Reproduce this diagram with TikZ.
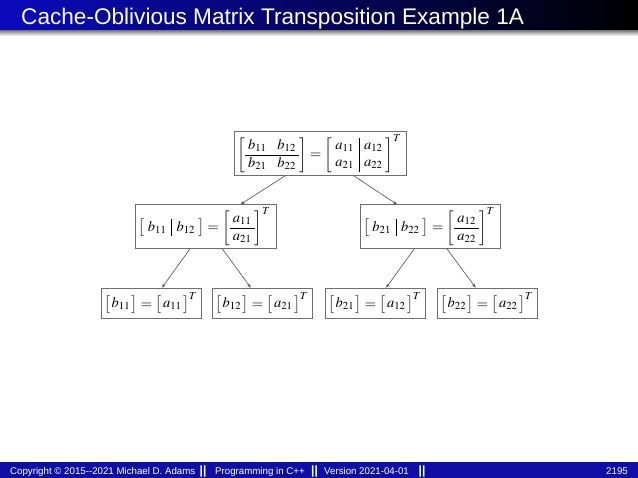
\documentclass[tikz,border=0pt]{standalone}
\usepackage{amsmath}
\usepackage{mathptmx}
\usepackage{fontspec}
\setmainfont{Liberation Serif}
\newfontfamily\hdfont{Liberation Sans}
\usetikzlibrary{arrows.meta}
\definecolor{hdblue}{RGB}{10,10,190}
\definecolor{ftblue}{RGB}{15,15,165}
\definecolor{boxgray}{RGB}{110,110,110}
\tikzset{
  mbox/.style={draw=boxgray, line width=0.7pt, inner xsep=3pt, inner ysep=3pt, font=\fontsize{14.5}{17}\selectfont},
  leafbox/.style={mbox, minimum width=100pt, minimum height=30pt, inner ysep=0pt},
  conn/.style={draw=black!70, line width=0.6pt, -{Stealth[length=4pt,width=3pt]}},
  ftext/.style={anchor=base west, text=white, inner sep=0pt, font=\hdfont\fontsize{9.7}{11}\selectfont},
  fsep/.style={anchor=base west, text=white, inner sep=0pt, font=\hdfont\bfseries\fontsize{12}{12}\selectfont}
}
\newcommand{\lbr}[1]{\left[\begin{array}{@{\;}c@{\;}}#1\end{array}\right]}
\newcommand{\sbr}[1]{\left[\begin{array}{@{\,}c@{\,}}#1\end{array}\right]}
\newcommand{\vbr}[2]{\left[\begin{array}{@{\;}c@{\hspace{5pt}}|@{\hspace{5pt}}c@{\;}}#1\\#2\end{array}\right]}
\newcommand{\vbrone}[1]{\left[\begin{array}{@{\;}c@{\hspace{5pt}}|@{\hspace{5pt}}c@{\;}}#1\end{array}\right]}
\begin{document}
\begin{tikzpicture}[x=1pt,y=-1pt]
\useasboundingbox (0,0) rectangle (638,478);
% header
\shade[left color=hdblue, right color=black] (0,0) rectangle (638,31);
\shade[top color=black!45, bottom color=white] (0,31) rectangle (638,36);
\node[anchor=base west, text=white, inner sep=0pt, font=\hdfont\fontsize{22.6}{26}\selectfont] (title) at (21,25) {Cache-Oblivious Matrix Transposition Example 1A};
% footer
\fill[ftblue] (0,462) rectangle (638,478);
\node[ftext] (f1) at (10,474.5) {Copyright \textcopyright\ 2015--2021 Michael D. Adams};
\node[fsep] (s1) at (199.5,475) {||};
\node[ftext] (f2) at (215,474.5) {Programming in C++};
\node[fsep] (s2) at (311,475) {||};
\node[ftext] (f3) at (324,474.5) {Version 2021-04-01};
\node[fsep] (s3) at (418.5,475) {||};
\node[anchor=base east, text=white, inner sep=0pt, font=\hdfont\fontsize{9.7}{11}\selectfont] (f4) at (628,474.5) {2195};
% tree
\node[mbox] (top) at (320,153.5) {$\left[\begin{array}{@{\;}c@{\hspace{11pt}}c@{\;}} b_{11} & b_{12}\\\hline b_{21} & b_{22}\end{array}\right]=\vbr{a_{11} & a_{12}}{a_{21} & a_{22}}^T\,$};
\node[mbox] (ml) at (206,226.5) {$\vbrone{b_{11} & b_{12}}=\lbr{a_{11}\\\hline a_{21}}^{T}\;$};
\node[mbox] (mr) at (430.5,226.5) {$\vbrone{b_{21} & b_{22}}=\lbr{a_{12}\\\hline a_{22}}^{T}\;$};
\node[leafbox] (l1) at (151,303) {\makebox[94pt][l]{$\sbr{b_{11}}=\sbr{a_{11}}^T$}};
\node[leafbox] (l2) at (262,303) {\makebox[94pt][l]{$\sbr{b_{12}}=\sbr{a_{21}}^T$}};
\node[leafbox] (l3) at (375,303) {\makebox[94pt][l]{$\sbr{b_{21}}=\sbr{a_{12}}^T$}};
\node[leafbox] (l4) at (487,303) {\makebox[94pt][l]{$\sbr{b_{22}}=\sbr{a_{22}}^T$}};
\draw[conn] (top) -- (ml);
\draw[conn] (top) -- (mr);
\draw[conn] (ml) -- (l1);
\draw[conn] (ml) -- (l2);
\draw[conn] (mr) -- (l3);
\draw[conn] (mr) -- (l4);
\end{tikzpicture}
\end{document}
